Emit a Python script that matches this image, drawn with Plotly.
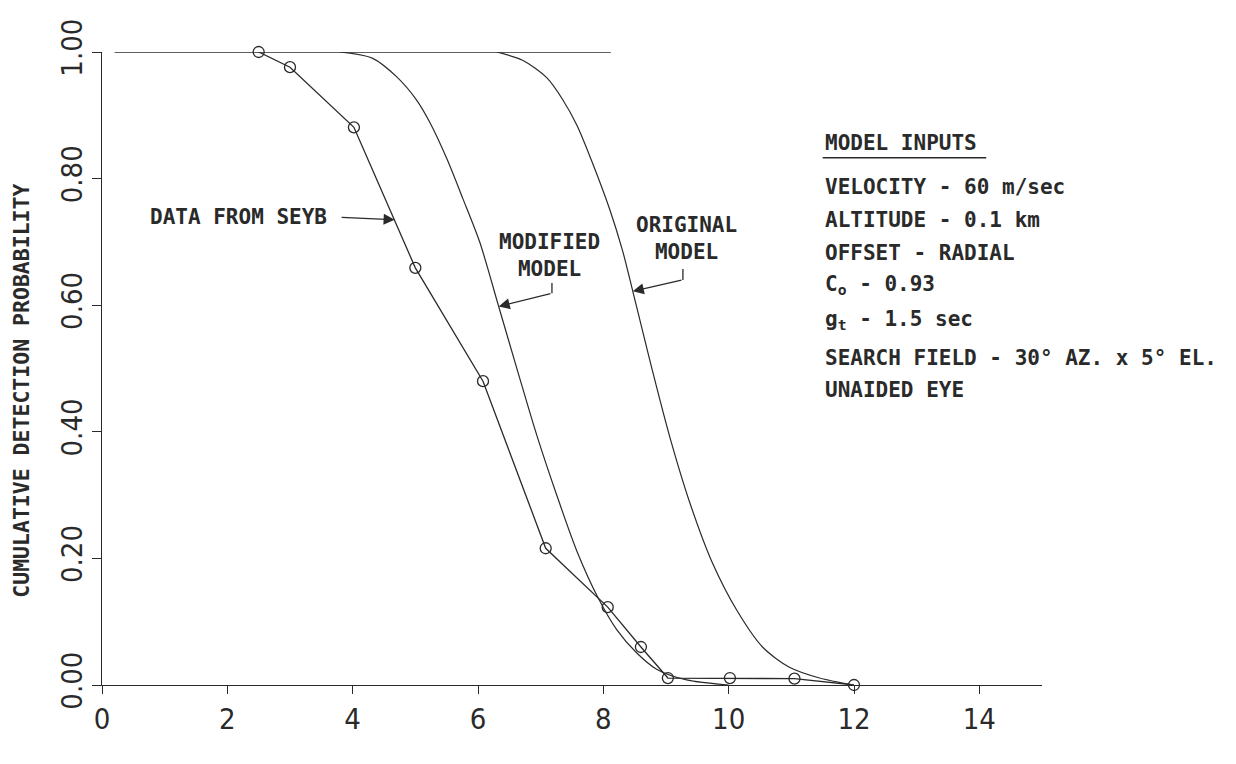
import plotly.graph_objects as go

# Data from Seyb (circles)
seyb_x = [2.5, 3.0, 4.02, 5.0, 6.08, 7.08, 8.07, 8.6, 9.03, 10.02, 11.05, 12.0]
seyb_y = [1.0, 0.976, 0.881, 0.659, 0.48, 0.216, 0.123, 0.06, 0.011, 0.011, 0.010, 0.0]

# Modified model curve
mod_x = [3.8, 4.32, 4.70, 5.02, 5.23, 5.50, 5.76, 6.03, 6.33, 6.65, 6.94,
         7.26, 7.58, 7.91, 8.21, 8.53, 8.85, 9.33, 10.0]
mod_y = [1.0, 0.990, 0.961, 0.924, 0.889, 0.832, 0.768, 0.699, 0.598, 0.490, 0.394,
         0.299, 0.211, 0.139, 0.088, 0.051, 0.025, 0.008, 0.0]

# Original model curve
orig_x = [6.3, 6.71, 7.10, 7.35, 7.58, 7.83, 8.10, 8.31, 8.47, 8.63, 8.79,
          9.06, 9.38, 9.74, 10.13, 10.54, 10.97, 11.45, 11.98]
orig_y = [1.0, 0.987, 0.959, 0.925, 0.884, 0.824, 0.752, 0.685, 0.622, 0.558, 0.494,
          0.392, 0.288, 0.193, 0.118, 0.060, 0.028, 0.011, 0.0]

# Upper reference line at probability 1.0
top_x = [0.2, 8.12]
top_y = [1.0, 1.0]

x_ticks = [0, 2, 4, 6, 8, 10, 12, 14]
y_ticks = [0.0, 0.2, 0.4, 0.6, 0.8, 1.0]

model_inputs = [
    "VELOCITY - 60 m/sec",
    "ALTITUDE - 0.1 km",
    "OFFSET - RADIAL",
    "C<sub>o</sub> - 0.93",
    "g<sub>t</sub> - 1.5 sec",
    "SEARCH FIELD - 30° AZ. x 5° EL.",
    "UNAIDED EYE",
]
model_inputs_y = [0.787, 0.735, 0.682, 0.632, 0.577, 0.517, 0.466]

INK = "#2a2a2a"
LET = "DejaVu Sans Mono"
TICKF = "DejaVu Sans Condensed, Liberation Sans, Arial"

fig = go.Figure()
fig.add_trace(go.Scatter(x=top_x, y=top_y, mode="lines",
                         line=dict(color=INK, width=1.3), cliponaxis=False, showlegend=False))
fig.add_trace(go.Scatter(x=mod_x, y=mod_y, mode="lines", line_shape="spline",
                         line=dict(color=INK, width=1.2, smoothing=0.8), cliponaxis=False, showlegend=False))
fig.add_trace(go.Scatter(x=orig_x, y=orig_y, mode="lines", line_shape="spline",
                         line=dict(color=INK, width=1.2, smoothing=0.8), cliponaxis=False, showlegend=False))
fig.add_trace(go.Scatter(x=seyb_x, y=seyb_y, mode="lines+markers",
                         line=dict(color=INK, width=1.3),
                         marker=dict(symbol="circle-open", size=11, color=INK, line=dict(width=1.3)),
                         cliponaxis=False, showlegend=False))

ann = []
def txt(x, y, t, xanchor="center", size=21):
    ann.append(dict(x=x, y=y, xref="x", yref="y", text=t, showarrow=False,
                    xanchor=xanchor, yanchor="middle",
                    font=dict(family=LET, size=size, color=INK, weight="bold")))

def arrow(x, y, x0, y0):
    ann.append(dict(x=x, y=y, ax=x0, ay=y0, xref="x", yref="y", axref="x", ayref="y",
                    text="", showarrow=True, arrowhead=2, arrowsize=1.7,
                    arrowwidth=1.3, arrowcolor=INK, standoff=0))

# Labels with arrows
txt(2.185, 0.739, "DATA FROM SEYB")
arrow(4.67, 0.735, 3.80, 0.739)
txt(7.145, 0.679, "MODIFIED<br>MODEL")
arrow(6.33, 0.598, 7.18, 0.619)
txt(9.33, 0.706, "ORIGINAL<br>MODEL")
arrow(8.47, 0.622, 9.27, 0.640)

# Model inputs block
txt(11.5, 0.856, "MODEL INPUTS", xanchor="left")
for t, yy in zip(model_inputs, model_inputs_y):
    txt(11.5, yy, t, xanchor="left")

# Axis titles
txt(6.99, -0.098, "SLANT RANGE, km")
ann.append(dict(x=-0.085, y=0.465, xref="paper", yref="y", text="CUMULATIVE DETECTION PROBABILITY",
                showarrow=False, textangle=-90, xanchor="center", yanchor="middle",
                font=dict(family=LET, size=21.5, color=INK, weight="bold")))

shapes = [
    dict(type="line", xref="x", yref="y", x0=7.18, x1=7.18, y0=0.635, y1=0.619,
         line=dict(color=INK, width=1.3)),
    dict(type="line", xref="x", yref="y", x0=9.27, x1=9.27, y0=0.657, y1=0.640,
         line=dict(color=INK, width=1.3)),
    dict(type="line", xref="x", yref="y", x0=11.5, x1=14.11, y0=0.833, y1=0.833,
         line=dict(color=INK, width=1.5)),
]

fig.update_layout(
    width=1236, height=764,
    margin=dict(l=102, r=194, t=52, b=79),
    paper_bgcolor="white", plot_bgcolor="white",
    annotations=ann, shapes=shapes, showlegend=False,
    xaxis=dict(range=[0, 15], tickvals=x_ticks, ticktext=[str(v) for v in x_ticks],
               showgrid=False, zeroline=False, showline=True, linecolor=INK, linewidth=1.3,
               ticks="outside", ticklen=8, tickwidth=1.3, tickcolor=INK,
               tickfont=dict(family=TICKF, size=29, color=INK)),
    yaxis=dict(range=[0, 1], tickvals=y_ticks, ticktext=[f"{v:.2f}" for v in y_ticks],
               showgrid=False, zeroline=False, showline=True, linecolor=INK, linewidth=1.3,
               ticks="outside", ticklen=9, tickwidth=1.3, tickcolor=INK, tickangle=-90,
               ticklabelstandoff=-2,
               tickfont=dict(family=TICKF, size=29, color=INK)),
)

fig.write_html("out.html")
